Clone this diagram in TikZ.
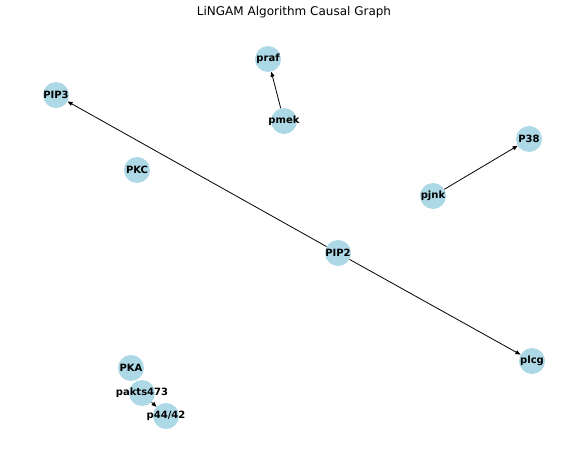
\documentclass[tikz,border=0pt]{standalone}
\usepackage{fontspec}
\setmainfont{DejaVu Sans}
\usepackage{tikz}
\usetikzlibrary{arrows.meta}

\begin{document}
\begin{tikzpicture}[x=1pt,y=-1pt,>={Triangle[length=5pt,width=4pt]},
  vertex/.style={circle,fill=nodeblue,draw=none,minimum size=26pt,inner sep=0pt},
  vlabel/.style={font=\bfseries\fontsize{10}{12}\selectfont,inner sep=0pt,text=black},
  causal/.style={->,black,line width=0.8pt}]
  \definecolor{nodeblue}{HTML}{ADD8E6}

  % fixed canvas
  \useasboundingbox (0,0) rectangle (588,460);

  % title
  \node[font=\fontsize{12}{14}\selectfont] (title) at (294,12) {LiNGAM Algorithm Causal Graph};

  %% ---------------------------------------------------------------
  %% nodes (circles first, labels on top)
  %% ---------------------------------------------------------------
  \node[vertex] (praf)  at (268,59)  {};
  \node[vertex] (pmek)  at (284,121) {};
  \node[vertex] (PIP3)  at (56,95)   {};
  \node[vertex] (PKC)   at (137,170) {};
  \node[vertex] (P38)   at (529,139) {};
  \node[vertex] (pjnk)  at (433,196) {};
  \node[vertex] (PIP2)  at (338,253) {};
  \node[vertex] (plcg)  at (532,361) {};
  \node[vertex] (PKA)   at (131,368) {};
  \node[vertex] (pakts) at (142,393) {};
  \node[vertex] (p4442) at (166,416) {};

  %% ---------------------------------------------------------------
  %% causal edges
  %% ---------------------------------------------------------------
  \draw[causal] (pmek) -- (praf);
  \draw[causal] (pjnk) -- (P38);
  \draw[causal] (PIP2) -- (PIP3);
  \draw[causal] (PIP2) -- (plcg);
  \draw[causal] (pakts) -- (p4442);

  % labels
  \node[vlabel] (praf-t)  at (praf)  {praf};
  \node[vlabel] (pmek-t)  at (pmek)  {pmek};
  \node[vlabel] (PIP3-t)  at (PIP3)  {PIP3};
  \node[vlabel] (PKC-t)   at (PKC)   {PKC};
  \node[vlabel] (P38-t)   at (P38)   {P38};
  \node[vlabel] (pjnk-t)  at (pjnk)  {pjnk};
  \node[vlabel] (PIP2-t)  at (PIP2)  {PIP2};
  \node[vlabel] (plcg-t)  at (plcg)  {plcg};
  \node[vlabel] (PKA-t)   at (PKA)   {PKA};
  \node[vlabel] (pakts-t) at (pakts) {pakts473};
  \node[vlabel] (p4442-t) at (p4442) {p44/42};

\end{tikzpicture}
\end{document}
